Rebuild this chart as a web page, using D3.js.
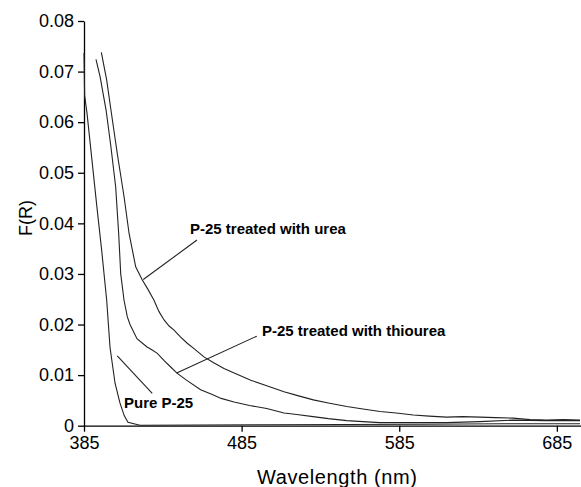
<!DOCTYPE html>
<html>
<head>
<meta charset="utf-8">
<script src="https://cdn.jsdelivr.net/npm/d3@7"></script>
<style>
  body { margin: 0; background: #fff; }
  text { font-family: Arial, "Liberation Sans", sans-serif; }
</style>
</head>
<body>
<svg id="chart" width="581" height="487"></svg>
<script>
// values (wavelength nm, F(R))
const urea = [
  [396.0, 0.0738], [399.4, 0.0683], [401.5, 0.0637], [406.1, 0.0538], [410.4, 0.0453],
  [413.6, 0.0380], [417.8, 0.0314], [422.0, 0.0288], [425.5, 0.0270], [429.4, 0.0248],
  [432.5, 0.0226], [435.8, 0.0209], [439.0, 0.0197], [442.1, 0.0189], [446.0, 0.0176],
  [450.5, 0.0163], [455.0, 0.0152], [461.1, 0.0136], [467.0, 0.0125], [473.8, 0.0113],
  [481.0, 0.0103], [490.8, 0.0090], [500.0, 0.0080], [511.9, 0.0067], [520.0, 0.0060],
  [530.5, 0.0051], [540.0, 0.0045], [551.7, 0.0038], [562.0, 0.0033], [572.8, 0.0028],
  [583.0, 0.0025], [594.0, 0.0021], [604.0, 0.0019], [615.1, 0.0017], [625.0, 0.0018],
  [636.3, 0.0017], [646.0, 0.0016], [657.2, 0.0015], [668.0, 0.0012], [678.6, 0.0011],
  [689.0, 0.0012], [699.7, 0.0011]
];
const thiourea = [
  [392.6, 0.0724], [395.2, 0.0690], [399.0, 0.0624], [402.1, 0.0551], [405.1, 0.0472],
  [407.0, 0.0380], [408.3, 0.0300], [410.4, 0.0248], [412.5, 0.0215], [414.2, 0.0200],
  [418.6, 0.0172], [424.8, 0.0156], [428.0, 0.0150], [431.5, 0.0143], [436.0, 0.0128],
  [440.0, 0.0116], [444.0, 0.0104], [450.0, 0.0090], [459.0, 0.0071], [466.0, 0.0062],
  [472.0, 0.0054], [480.2, 0.0047], [490.0, 0.0040], [500.9, 0.0034], [511.9, 0.0025],
  [520.0, 0.0022], [530.3, 0.0018], [540.0, 0.0014], [551.7, 0.0010], [562.0, 0.0008],
  [572.8, 0.0006], [594.0, 0.0006], [615.1, 0.0006], [636.0, 0.0008], [657.2, 0.0011],
  [678.0, 0.0010], [699.7, 0.0010]
];
const pure = [
  [385.0, 0.0737], [385.4, 0.0653], [386.9, 0.0618], [393.2, 0.0432], [396.2, 0.0347],
  [399.4, 0.0248], [401.5, 0.0155], [404.7, 0.0084], [407.8, 0.0045], [410.5, 0.0020],
  [412.9, 0.0007], [420.5, 0.0001], [500.0, 0.0002], [600.0, 0.0003], [650.0, 0.0004],
  [699.7, 0.0004]
];
const xTicks = [385, 485, 585, 685];
const yTicks = [0, 0.01, 0.02, 0.03, 0.04, 0.05, 0.06, 0.07, 0.08];
const yTickLabels = ["0", "0.01", "0.02", "0.03", "0.04", "0.05", "0.06", "0.07", "0.08"];

const svg = d3.select("#chart");

const x = d3.scaleLinear().domain([385, 700]).range([84, 580.5]);
const y = d3.scaleLinear().domain([0, 0.08]).range([425.7, 21]);

// axes
const xAxis = svg.append("g")
  .attr("transform", "translate(0,425.7)")
  .call(d3.axisBottom(x).tickValues(xTicks).tickSize(6).tickSizeOuter(0).tickPadding(5));
xAxis.selectAll("text").attr("font-size", "18px").attr("fill", "#000");

const yAxis = svg.append("g")
  .attr("transform", "translate(84,0)")
  .call(d3.axisLeft(y).tickValues(yTicks).tickFormat((d, i) => yTickLabels[i])
    .tickSize(6).tickSizeOuter(0).tickPadding(4));
yAxis.selectAll("text").attr("font-size", "18px").attr("fill", "#000");

svg.selectAll(".domain, .tick line").attr("stroke", "#000").attr("stroke-width", 1.3);

// axis titles
svg.append("text")
  .attr("x", 337).attr("y", 484)
  .attr("text-anchor", "middle")
  .attr("font-size", "20px")
  .attr("textLength", 160)
  .attr("lengthAdjust", "spacing")
  .text("Wavelength (nm)");

svg.append("text")
  .attr("transform", "translate(32,218) rotate(-90)")
  .attr("text-anchor", "middle")
  .attr("font-size", "18px")
  .text("F(R)");

// spectra
const line = d3.line().x(d => x(d[0])).y(d => y(d[1]));
[urea, thiourea, pure].forEach(s => {
  svg.append("path")
    .datum(s)
    .attr("d", line)
    .attr("fill", "none")
    .attr("stroke", "#222")
    .attr("stroke-width", 1.1);
});

// annotations with leader lines
const notes = [
  { text: "P-25 treated with urea", tx: 190, ty: 234, from: [456.7, 0.0367], to: [422.6, 0.0289] },
  { text: "P-25 treated with thiourea", tx: 262, ty: 336, from: [494.6, 0.0177], to: [443.8, 0.0104] },
  { text: "Pure P-25", tx: 124, ty: 408, from: [406.1, 0.0138], to: [428.3, 0.0064] }
];
notes.forEach(n => {
  svg.append("line")
    .attr("x1", x(n.from[0])).attr("y1", y(n.from[1]))
    .attr("x2", x(n.to[0])).attr("y2", y(n.to[1]))
    .attr("stroke", "#222").attr("stroke-width", 1.1);
  svg.append("text")
    .attr("x", n.tx).attr("y", n.ty)
    .attr("font-size", "15px")
    .attr("font-weight", "bold")
    .text(n.text);
});
</script>
</body>
</html>
